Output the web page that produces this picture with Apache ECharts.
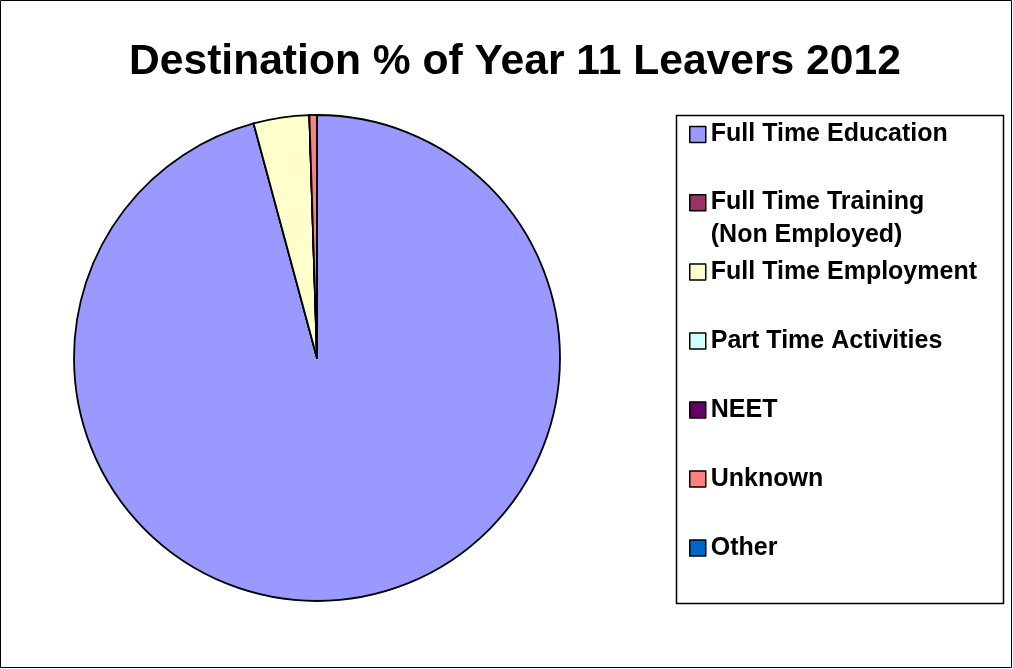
<!DOCTYPE html>
<html>
<head>
<meta charset="utf-8">
<script src="https://cdn.jsdelivr.net/npm/echarts@6/dist/echarts.min.js"></script>
<style>
html,body{margin:0;padding:0;background:#fff;}
#chart{width:1013px;height:669px;}
</style>
</head>
<body>
<div id="chart"></div>
<script>
var titleText = 'Destination % of Year 11 Leavers 2012';
var categories = ['Full Time Education', 'Full Time Training (Non Employed)', 'Full Time Employment', 'Part Time Activities', 'NEET', 'Unknown', 'Other'];
var values = [95.8, 0, 3.7, 0, 0, 0.5, 0];
var colors = ['#9999FF', '#993366', '#FFFFCC', '#CCFFFF', '#660066', '#FF8080', '#0066CC'];

var pieData = categories.map(function (c, i) {
  return { name: c, value: values[i], itemStyle: { color: colors[i] } };
});

var chart = echarts.init(document.getElementById('chart'), null, { renderer: 'canvas' });
var legendText = { fontFamily: 'Liberation Sans, Arial, sans-serif', fontWeight: 'bold', fontSize: 25, color: '#000', lineHeight: 33 };
var legendItemStyle = { borderColor: '#000', borderWidth: 1.5 };
function fmt(name) {
  if (name === 'Full Time Training (Non Employed)') return 'Full Time Training\n(Non Employed)';
  return name;
}
chart.setOption({
  animation: false,
  backgroundColor: '#fff',
  color: colors,
  title: {
    text: titleText,
    left: 129,
    top: 41,
    padding: 0,
    textStyle: { fontFamily: 'Liberation Sans, Arial, sans-serif', fontWeight: 'bold', fontSize: 42.6, color: '#000' }
  },
  legend: [
    {
      orient: 'vertical', left: 689, top: 118, padding: 0, icon: 'rect',
      data: [categories[0]], itemWidth: 16, itemHeight: 16,
      textStyle: legendText, itemStyle: legendItemStyle, formatter: fmt, selectedMode: false
    },
    {
      orient: 'vertical', left: 689, top: 186, padding: 0,
      data: [{ name: categories[1], icon: 'path://M0,0H16V16H0Z M8,48.5L8,48.5' }],
      itemWidth: 16, itemHeight: 48.5,
      textStyle: legendText, itemStyle: legendItemStyle, formatter: fmt, selectedMode: false
    },
    {
      orient: 'vertical', left: 689, top: 255.5, padding: 0, itemGap: 36, icon: 'rect',
      data: categories.slice(2), itemWidth: 16, itemHeight: 16,
      textStyle: legendText, itemStyle: legendItemStyle, formatter: fmt, selectedMode: false
    }
  ],
  graphic: [
    { type: 'rect', shape: { x: 0.5, y: 0.5, width: 1011, height: 667 }, style: { fill: 'none', stroke: '#000', lineWidth: 1 }, silent: true, z: -1 },
    { type: 'rect', shape: { x: 676.5, y: 115.5, width: 327, height: 488 }, style: { fill: 'none', stroke: '#000', lineWidth: 1.5 }, silent: true }
  ],
  series: [{
    type: 'pie',
    center: [317, 358],
    radius: 243,
    startAngle: 90,
    clockwise: true,
    label: { show: false },
    labelLine: { show: false },
    emphasis: { disabled: true },
    itemStyle: { borderColor: '#000', borderWidth: 1.8 },
    data: pieData
  }]
});
</script>
</body>
</html>
